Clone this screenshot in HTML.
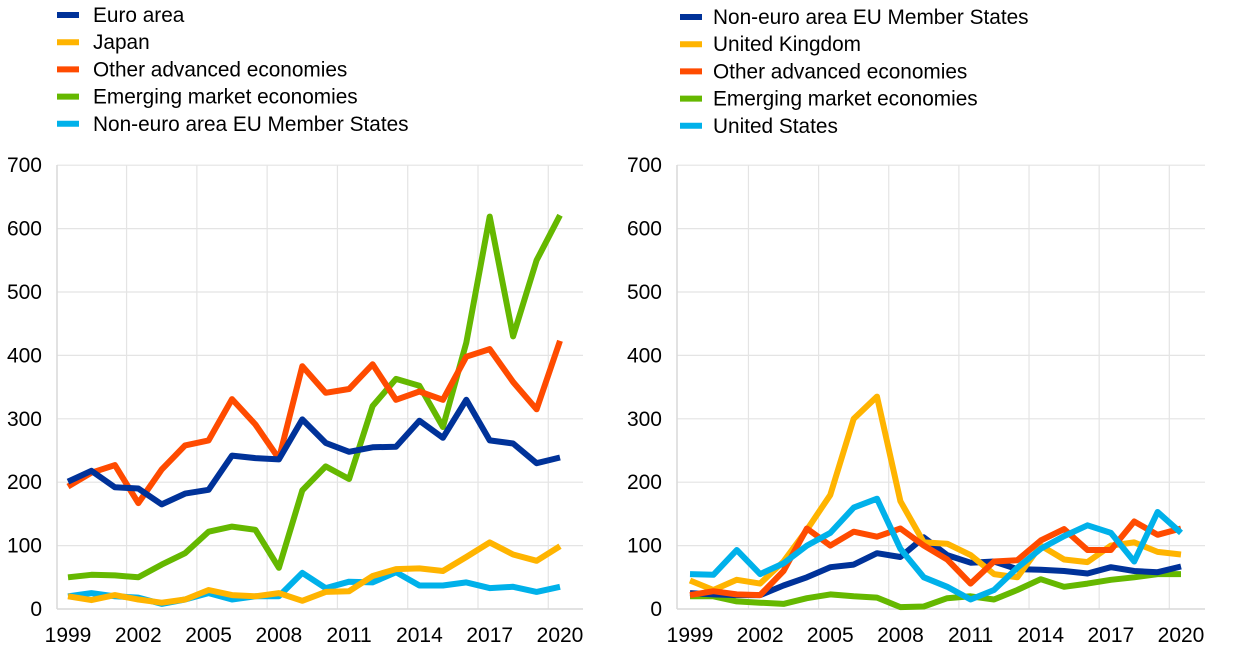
<!DOCTYPE html>
<html><head><meta charset="utf-8"><style>
body{margin:0;background:#fff;width:1240px;height:655px;overflow:hidden}
svg{font-family:"Liberation Sans",Arial,sans-serif}
</style></head><body>
<svg id="s" width="1240" height="655" xmlns="http://www.w3.org/2000/svg"></svg>
<script>
const s=document.getElementById('s');let h='';
const C={navy:'#003299',yel:'#ffb400',org:'#ff4b00',grn:'#65b800',cyan:'#00b1ea'};
function legend(x,y0,items,tx){items.forEach((it,i)=>{const y=y0+i*27.2;
h+=`<line x1="${x}" x2="${x+22}" y1="${y}" y2="${y}" stroke="${it[0]}" stroke-width="6"/>`;
h+=`<text x="${x+tx}" y="${y+7}" font-size="20.8" fill="#000">${it[1]}</text>`;});}
function chart(x0,x1,xa,la,series){
 const y0=609,sc=0.634,dx=(xa[1]-xa[0])/21;
 for(let v=100;v<=700;v+=100)h+=`<line x1="${x0}" x2="${x1}" y1="${y0-v*sc}" y2="${y0-v*sc}" stroke="#e4e4e4" stroke-width="1.2"/>`;
 for(let k=1;k<=7;k++){const x=xa[0]-dx/2+k*3*dx;h+=`<line x1="${x}" x2="${x}" y1="165" y2="${y0}" stroke="#e4e4e4" stroke-width="1.2"/>`;}
 h+=`<line x1="${x0}" x2="${x0}" y1="165" y2="${y0}" stroke="#d9d9d9" stroke-width="1.5"/>`;
 h+=`<line x1="${x0}" x2="${x1}" y1="${y0}" y2="${y0}" stroke="#d9d9d9" stroke-width="1.5"/>`;
 for(let v=0;v<=700;v+=100){h+=`<text x="${la}" y="${y0-v*sc+7}" font-size="21" text-anchor="end">${v}</text>`;}
 for(let yr=1999;yr<=2020;yr+=3){const x=xa[0]+(yr-1999)*dx;
  h+=`<text x="${x}" y="642" font-size="21" text-anchor="middle">${yr}</text>`;}
 series.forEach(([c,d])=>{h+=`<polyline fill="none" stroke="${c}" stroke-width="6" stroke-linejoin="round" points="${d.map((v,i)=>(xa[0]+i*dx).toFixed(1)+','+(y0-v*sc).toFixed(1)).join(' ')}"/>`;});
}
legend(57,15,[[C.navy,'Euro area'],[C.yel,'Japan'],[C.org,'Other advanced economies'],[C.grn,'Emerging market economies'],[C.cyan,'Non-euro area EU Member States']],36);
legend(680,17,[[C.navy,'Non-euro area EU Member States'],[C.yel,'United Kingdom'],[C.org,'Other advanced economies'],[C.grn,'Emerging market economies'],[C.cyan,'United States']],33);
chart(57,583,[68,560],42,[
[C.cyan,[20,25,20,18,8,15,25,15,20,20,57,33,43,42,58,37,37,42,33,35,27,35]],
[C.yel,[20,14,22,15,10,15,30,22,20,25,13,27,28,52,63,64,60,82,105,86,76,99]],
[C.grn,[50,54,53,50,70,88,122,130,125,65,187,225,205,320,363,352,287,420,619,430,550,621]],
[C.org,[193,215,227,167,220,258,266,331,291,237,383,341,347,386,330,343,330,398,410,358,315,423]],
[C.navy,[201,218,192,190,165,182,188,242,238,236,299,262,248,255,256,297,270,330,266,261,230,239]]
]);
chart(677,1205,[690,1181],662,[
[C.grn,[20,20,12,10,8,17,23,20,18,3,4,17,20,15,30,47,35,40,46,50,55,55]],
[C.navy,[25,23,22,22,37,50,66,70,88,82,113,85,73,75,63,62,60,56,66,60,58,67]],
[C.yel,[45,30,46,40,75,125,180,300,335,170,105,103,85,55,50,100,78,74,100,105,90,86]],
[C.org,[22,28,23,22,60,127,100,122,114,127,100,78,40,75,77,108,126,93,93,138,117,127]],
[C.cyan,[55,54,93,55,72,100,120,160,174,95,50,35,15,30,65,95,115,132,120,75,153,120]]
]);
s.innerHTML=h;
</script>
</body></html>
